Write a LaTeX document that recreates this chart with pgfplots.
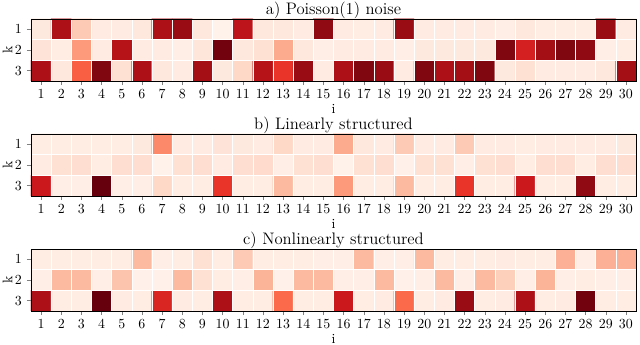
\documentclass[border=0pt]{standalone}
\usepackage{pgfplots}
\pgfplotsset{compat=1.18}

% 1 px of the reference = 0.72pt
\pgfplotsset{
  heat/.style={
    scale only axis,
    width=435.6pt, height=44.6pt,
    xmin=0.5, xmax=30.5, ymin=0.5, ymax=3.5,
    y dir=reverse,
    xtick={1,...,30}, ytick={1,2,3},
    minor xtick={1.5,2.5,...,29.5}, minor ytick={1.5,2.5},
    minor tick length=0pt,
    xminorgrids, yminorgrids,
    minor grid style={white, line width=0.4pt},
    tick align=outside, xtick pos=bottom, ytick pos=left,
    major tick length=3pt,
    axis on top,
    colormap={reds}{rgb=(1,0.961,0.941) rgb=(0.996,0.878,0.824)
      rgb=(0.988,0.733,0.631) rgb=(0.988,0.573,0.447) rgb=(0.984,0.416,0.290)
      rgb=(0.937,0.231,0.173) rgb=(0.796,0.094,0.114) rgb=(0.647,0.059,0.082)
      rgb=(0.404,0,0.051)},
    point meta min=0, point meta max=1,
    xlabel={i}, ylabel={k},
    xlabel style={yshift=3pt},
    ylabel style={yshift=-5pt},
    title style={font=\large, yshift=-9pt},
    anchor=north west,
  }
}

\begin{document}
\begin{tikzpicture}
\path[use as bounding box] (-22.32pt,13.68pt) rectangle (438.48pt,-234.72pt);

\begin{axis}[heat, at={(0,0)}, title={a) Poisson$(1)$ noise}]
\addplot[matrix plot*, mesh/cols=30, point meta=explicit] coordinates {
(1,1)[0.07] (2,1)[0.85] (3,1)[0.2] (4,1)[0.06] (5,1)[0.06] (6,1)[0.08] (7,1)[0.85] (8,1)[0.9] (9,1)[0.08] (10,1)[0.02]
(11,1)[0.8] (12,1)[0.08] (13,1)[0.08] (14,1)[0.06] (15,1)[0.92] (16,1)[0.06] (17,1)[0.05] (18,1)[0.06] (19,1)[0.9] (20,1)[0.06]
(21,1)[0.06] (22,1)[0.06] (23,1)[0.06] (24,1)[0.04] (25,1)[0.08] (26,1)[0.05] (27,1)[0.05] (28,1)[0.05] (29,1)[0.9] (30,1)[0.06]

(1,2)[0.1] (2,2)[0.05] (3,2)[0.35] (4,2)[0.06] (5,2)[0.82] (6,2)[0.06] (7,2)[0.06] (8,2)[0.04] (9,2)[0.09] (10,2)[0.98]
(11,2)[0.08] (12,2)[0.12] (13,2)[0.3] (14,2)[0.08] (15,2)[0.04] (16,2)[0.06] (17,2)[0.06] (18,2)[0.06] (19,2)[0.04] (20,2)[0.07]
(21,2)[0.07] (22,2)[0.07] (23,2)[0.07] (24,2)[0.95] (25,2)[0.72] (26,2)[0.88] (27,2)[0.95] (28,2)[0.92] (29,2)[0.04] (30,2)[0.05]

(1,3)[0.85] (2,3)[0.08] (3,3)[0.53] (4,3)[0.95] (5,3)[0.12] (6,3)[0.85] (7,3)[0.08] (8,3)[0.06] (9,3)[0.88] (10,3)[0.07]
(11,3)[0.15] (12,3)[0.82] (13,3)[0.65] (14,3)[0.9] (15,3)[0.06] (16,3)[0.85] (17,3)[0.95] (18,3)[0.9] (19,3)[0.06] (20,3)[0.95]
(21,3)[0.85] (22,3)[0.88] (23,3)[0.95] (24,3)[0.07] (25,3)[0.12] (26,3)[0.06] (27,3)[0.06] (28,3)[0.06] (29,3)[0.08] (30,3)[0.88]
};
\end{axis}

\begin{axis}[heat, at={(0,-82.8pt)}, title={b) Linearly structured}]
\addplot[matrix plot*, mesh/cols=30, point meta=explicit] coordinates {
(1,1)[0.05] (2,1)[0.05] (3,1)[0.05] (4,1)[0.05] (5,1)[0.05] (6,1)[0.07] (7,1)[0.4] (8,1)[0.06] (9,1)[0.06] (10,1)[0.1]
(11,1)[0.07] (12,1)[0.06] (13,1)[0.15] (14,1)[0.06] (15,1)[0.06] (16,1)[0.3] (17,1)[0.08] (18,1)[0.06] (19,1)[0.2] (20,1)[0.06]
(21,1)[0.06] (22,1)[0.2] (23,1)[0.06] (24,1)[0.06] (25,1)[0.05] (26,1)[0.06] (27,1)[0.06] (28,1)[0.06] (29,1)[0.06] (30,1)[0.07]

(1,2)[0.06] (2,2)[0.12] (3,2)[0.13] (4,2)[0.05] (5,2)[0.13] (6,2)[0.13] (7,2)[0.02] (8,2)[0.12] (9,2)[0.13] (10,2)[0.06]
(11,2)[0.13] (12,2)[0.14] (13,2)[0.04] (14,2)[0.12] (15,2)[0.13] (16,2)[0.02] (17,2)[0.12] (18,2)[0.13] (19,2)[0.03] (20,2)[0.12]
(21,2)[0.12] (22,2)[0.04] (23,2)[0.12] (24,2)[0.13] (25,2)[0.05] (26,2)[0.13] (27,2)[0.13] (28,2)[0.05] (29,2)[0.13] (30,2)[0.13]

(1,3)[0.75] (2,3)[0.04] (3,3)[0.04] (4,3)[1.0] (5,3)[0.04] (6,3)[0.04] (7,3)[0.15] (8,3)[0.05] (9,3)[0.05] (10,3)[0.65]
(11,3)[0.05] (12,3)[0.05] (13,3)[0.25] (14,3)[0.05] (15,3)[0.05] (16,3)[0.35] (17,3)[0.05] (18,3)[0.05] (19,3)[0.25] (20,3)[0.05]
(21,3)[0.05] (22,3)[0.65] (23,3)[0.05] (24,3)[0.05] (25,3)[0.75] (26,3)[0.05] (27,3)[0.05] (28,3)[0.92] (29,3)[0.05] (30,3)[0.05]
};
\end{axis}

\begin{axis}[heat, at={(0,-165.6pt)}, title={c) Nonlinearly structured}]
\addplot[matrix plot*, mesh/cols=30, point meta=explicit] coordinates {
(1,1)[0.05] (2,1)[0.05] (3,1)[0.05] (4,1)[0.05] (5,1)[0.05] (6,1)[0.25] (7,1)[0.04] (8,1)[0.05] (9,1)[0.12] (10,1)[0.05]
(11,1)[0.2] (12,1)[0.05] (13,1)[0.05] (14,1)[0.05] (15,1)[0.04] (16,1)[0.04] (17,1)[0.25] (18,1)[0.04] (19,1)[0.04] (20,1)[0.25]
(21,1)[0.05] (22,1)[0.05] (23,1)[0.05] (24,1)[0.06] (25,1)[0.05] (26,1)[0.05] (27,1)[0.28] (28,1)[0.04] (29,1)[0.28] (30,1)[0.28]

(1,2)[0.04] (2,2)[0.25] (3,2)[0.25] (4,2)[0.04] (5,2)[0.22] (6,2)[0.03] (7,2)[0.03] (8,2)[0.25] (9,2)[0.12] (10,2)[0.05]
(11,2)[0.04] (12,2)[0.27] (13,2)[0.03] (14,2)[0.25] (15,2)[0.25] (16,2)[0.04] (17,2)[0.04] (18,2)[0.25] (19,2)[0.03] (20,2)[0.04]
(21,2)[0.25] (22,2)[0.04] (23,2)[0.25] (24,2)[0.18] (25,2)[0.04] (26,2)[0.27] (27,2)[0.04] (28,2)[0.05] (29,2)[0.04] (30,2)[0.04]

(1,3)[0.85] (2,3)[0.05] (3,3)[0.05] (4,3)[1.0] (5,3)[0.06] (6,3)[0.05] (7,3)[0.7] (8,3)[0.06] (9,3)[0.05] (10,3)[0.85]
(11,3)[0.05] (12,3)[0.05] (13,3)[0.5] (14,3)[0.05] (15,3)[0.05] (16,3)[0.75] (17,3)[0.05] (18,3)[0.06] (19,3)[0.5] (20,3)[0.05]
(21,3)[0.06] (22,3)[0.9] (23,3)[0.05] (24,3)[0.06] (25,3)[0.85] (26,3)[0.05] (27,3)[0.06] (28,3)[0.98] (29,3)[0.05] (30,3)[0.05]
};
\end{axis}
\end{tikzpicture}
\end{document}
